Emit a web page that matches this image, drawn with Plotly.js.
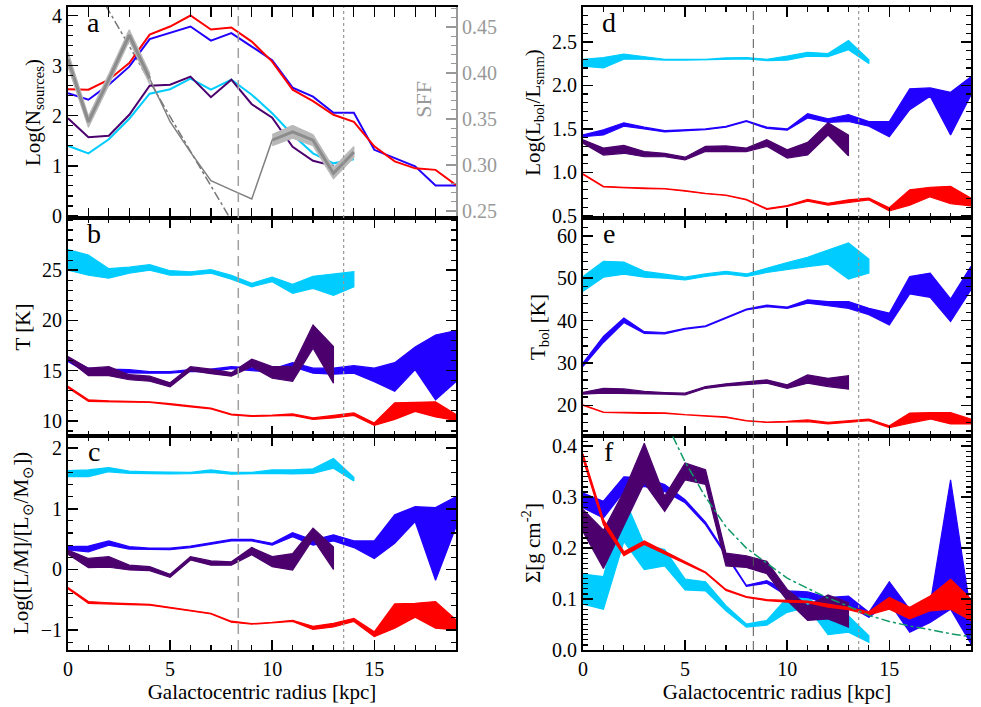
<!DOCTYPE html>
<html>
<head>
<meta charset="utf-8">
<script src="https://cdn.plot.ly/plotly-3.0.1.min.js"></script>
<style>
  body { margin: 0; background: white; }
  #chart { width: 981px; height: 707px; }
</style>
</head>
<body>
<div id="chart"></div>
<script>
// Galactocentric radius bins (kpc)
const radius = [0, 1, 2, 3, 4, 5, 6, 7, 8, 9, 10, 11, 12, 13, 14, 15, 16, 17, 18, 19]
const radius_purple = radius.slice(0, 14)
const radius_cyan = radius.slice(0, 15)

// Panel a: Log(N sources)
const a_red = [2.53, 2.52, 2.72, 3.05, 3.62, 3.78, 4.0, 3.72, 3.76, 3.48, 3.08, 2.52, 2.29, 2.02, 1.88, 1.39, 1.09, 0.95, 0.92, 0.62]
const a_blue = [2.45, 2.32, 2.62, 2.98, 3.53, 3.65, 3.78, 3.5, 3.65, 3.38, 3.11, 2.56, 2.38, 2.06, 2.06, 1.32, 1.15, 0.99, 0.61, 0.61]
const a_purple = [1.95, 1.57, 1.6, 2.02, 2.6, 2.62, 2.78, 2.37, 2.72, 2.23, 1.96, 1.38, 1.1, 1.0]
const a_cyan = [1.4, 1.25, 1.53, 1.94, 2.44, 2.53, 2.74, 2.52, 2.72, 2.42, 2.05, 1.62, 1.25, 1.05, 1.13]
const a_fit_x = [1.85, 5.0, 7.9]
const a_fit_y = [4.2, 1.98, -0.02]

// Panel a, right axis: star forming fraction
const sff = [0.415, 0.347, 0.393, 0.441, 0.394, 0.347, 0.314, 0.283, 0.273, 0.263, 0.327, 0.336, 0.327, 0.291, 0.314]
const sff_err = [0.008, 0.006, 0.006, 0.006, 0.006, 0, 0, 0, 0, 0, 0.006, 0.007, 0.006, 0.006, 0.006]

// Panel b: T [K]
const b_cyan_hi = [27.05, 26.5, 25.15, 25.3, 25.55, 24.95, 24.85, 25.05, 24.5, 23.7, 24.3, 23.6, 24.4, 24.6, 24.85]
const b_cyan_lo = [25.0, 24.5, 24.2, 24.7, 25.0, 24.5, 24.5, 24.7, 24.1, 23.35, 23.85, 22.7, 23.2, 22.5, 23.35]
const b_blue_hi = [16.25, 15.25, 15.15, 15.1, 14.9, 14.9, 15.1, 15.15, 15.4, 15.25, 15.15, 15.8, 15.25, 15.25, 15.5, 15.25, 15.8, 17.35, 18.55, 19.0]
const b_blue_lo = [15.9, 14.75, 14.8, 14.8, 14.75, 14.75, 14.9, 14.9, 15.2, 15.0, 14.9, 15.4, 14.75, 14.65, 14.75, 13.9, 12.95, 15.1, 12.1, 13.9]
const b_purple_hi = [16.4, 15.25, 15.4, 14.6, 14.45, 13.8, 15.4, 15.15, 14.8, 16.15, 15.4, 15.4, 19.55, 17.4]
const b_purple_lo = [16.1, 14.5, 14.5, 14.1, 13.95, 13.4, 15.0, 14.7, 14.45, 15.4, 14.25, 13.95, 17.25, 13.75]
const b_red_hi = [13.45, 12.1, 12.0, 11.95, 11.9, 11.72, 11.47, 11.27, 10.68, 10.52, 10.57, 10.7, 10.3, 10.55, 10.8, 9.8, 11.8, 11.85, 11.9, 10.65]
const b_red_lo = [13.3, 11.95, 11.92, 11.88, 11.85, 11.66, 11.4, 11.2, 10.6, 10.45, 10.5, 10.55, 10.15, 10.3, 10.55, 9.55, 10.15, 10.95, 10.4, 10.05]

// Panel c: Log([L/M]/[Lsun/Msun])
const c_cyan_hi = [1.63, 1.64, 1.68, 1.62, 1.61, 1.6, 1.6, 1.64, 1.6, 1.6, 1.64, 1.64, 1.66, 1.83, 1.52]
const c_cyan_lo = [1.53, 1.53, 1.61, 1.585, 1.585, 1.575, 1.58, 1.6, 1.57, 1.575, 1.585, 1.575, 1.585, 1.67, 1.46]
const c_blue_hi = [0.375, 0.385, 0.47, 0.375, 0.35, 0.35, 0.385, 0.445, 0.495, 0.495, 0.43, 0.605, 0.485, 0.57, 0.47, 0.47, 0.9, 1.035, 1.02, 1.2]
const c_blue_lo = [0.32, 0.29, 0.4, 0.335, 0.325, 0.325, 0.36, 0.42, 0.47, 0.47, 0.4, 0.54, 0.4, 0.47, 0.36, 0.18, 0.43, 0.79, -0.18, 0.7]
const c_purple_hi = [0.32, 0.18, 0.21, 0.07, 0.045, -0.08, 0.21, 0.14, 0.125, 0.36, 0.21, 0.26, 0.68, 0.37]
const c_purple_lo = [0.25, 0.03, 0.035, -0.01, -0.02, -0.13, 0.155, 0.07, 0.07, 0.24, 0.045, -0.01, 0.5, 0.0]
const c_red_hi = [-0.3, -0.53, -0.55, -0.565, -0.575, -0.625, -0.675, -0.725, -0.855, -0.895, -0.875, -0.84, -0.94, -0.89, -0.81, -1.03, -0.57, -0.56, -0.53, -0.83]
const c_red_lo = [-0.32, -0.56, -0.57, -0.58, -0.59, -0.635, -0.685, -0.735, -0.87, -0.905, -0.885, -0.86, -0.99, -0.95, -0.86, -1.11, -0.97, -0.79, -0.97, -1.0]

// Panel d: Log(Lbol/Lsmm)
const d_cyan_hi = [2.30, 2.32, 2.36, 2.33, 2.30, 2.30, 2.30, 2.315, 2.32, 2.30, 2.335, 2.38, 2.365, 2.515, 2.295]
const d_cyan_lo = [2.22, 2.2, 2.3, 2.3, 2.29, 2.29, 2.29, 2.3, 2.305, 2.285, 2.29, 2.335, 2.33, 2.41, 2.25]
const d_blue_hi = [1.43, 1.49, 1.57, 1.52, 1.48, 1.49, 1.5, 1.53, 1.595, 1.52, 1.5, 1.675, 1.615, 1.665, 1.585, 1.585, 1.96, 1.97, 1.92, 2.1]
const d_blue_lo = [1.41, 1.43, 1.53, 1.5, 1.465, 1.48, 1.49, 1.52, 1.585, 1.505, 1.485, 1.625, 1.575, 1.585, 1.53, 1.41, 1.72, 1.875, 1.43, 1.89]
const d_purple_hi = [1.375, 1.28, 1.31, 1.24, 1.22, 1.175, 1.3, 1.305, 1.28, 1.375, 1.26, 1.345, 1.57, 1.43]
const d_purple_lo = [1.335, 1.2, 1.22, 1.18, 1.18, 1.145, 1.24, 1.24, 1.24, 1.3, 1.165, 1.2, 1.43, 1.19]
const d_red_hi = [0.985, 0.84, 0.83, 0.82, 0.815, 0.79, 0.76, 0.74, 0.69, 0.585, 0.62, 0.69, 0.645, 0.685, 0.705, 0.595, 0.8, 0.83, 0.84, 0.705]
const d_red_lo = [0.975, 0.835, 0.825, 0.815, 0.81, 0.785, 0.755, 0.735, 0.685, 0.575, 0.61, 0.67, 0.625, 0.655, 0.685, 0.56, 0.625, 0.72, 0.64, 0.615]

// Panel e: Tbol [K]
const e_cyan_hi = [50.4, 53.95, 53.8, 51.6, 50.95, 50.25, 51.0, 51.6, 51.0, 52.4, 53.7, 54.95, 56.7, 58.3, 54.5]
const e_cyan_lo = [46.9, 50.25, 50.95, 50.25, 50.0, 49.6, 50.4, 51.0, 50.4, 51.35, 52.1, 52.75, 53.3, 49.8, 51.2]
const e_blue_hi = [30.0, 36.25, 40.6, 37.4, 37.2, 38.2, 38.75, 40.8, 42.7, 43.65, 43.2, 44.9, 44.5, 44.5, 42.9, 41.75, 50.4, 51.2, 45.1, 52.8]
const e_blue_lo = [29.2, 34.85, 39.55, 37.0, 36.9, 38.0, 38.6, 40.6, 42.5, 43.3, 42.9, 44.1, 43.5, 42.9, 41.4, 39.0, 46.3, 45.5, 39.8, 47.3]
const e_purple_hi = [23.1, 24.05, 23.9, 23.3, 23.05, 22.9, 24.45, 25.1, 25.55, 26.05, 24.85, 27.2, 26.4, 27.0]
const e_purple_lo = [22.65, 22.9, 22.9, 22.7, 22.65, 22.5, 24.05, 24.6, 25.0, 25.25, 24.05, 25.25, 24.45, 23.85]
const e_red_hi = [20.15, 18.45, 18.35, 18.25, 18.25, 17.85, 17.6, 17.3, 16.45, 16.1, 16.25, 16.6, 16.0, 16.4, 16.8, 15.2, 18.2, 18.3, 18.3, 16.8]
const e_red_lo = [20.05, 18.35, 18.25, 18.15, 18.15, 17.75, 17.5, 17.2, 16.35, 16.0, 16.15, 16.2, 15.65, 16.0, 16.4, 14.8, 15.8, 16.8, 15.65, 15.65]

// Panel f: surface density [g cm^-2]
const f_cyan_hi = [0.149, 0.144, 0.30, 0.207, 0.197, 0.139, 0.134, 0.087, 0.051, 0.058, 0.103, 0.106, 0.064, 0.067, 0.028]
const f_cyan_lo = [0.09, 0.08, 0.213, 0.158, 0.165, 0.118, 0.116, 0.077, 0.045, 0.049, 0.074, 0.084, 0.03, 0.035, 0.015]
const f_blue_hi = [0.308, 0.292, 0.34, 0.338, 0.325, 0.295, 0.251, 0.188, 0.127, 0.136, 0.116, 0.114, 0.103, 0.106, 0.074, 0.134, 0.08, 0.09, 0.334, 0.07]
const f_blue_lo = [0.279, 0.259, 0.311, 0.321, 0.311, 0.289, 0.246, 0.185, 0.125, 0.131, 0.106, 0.103, 0.09, 0.087, 0.064, 0.093, 0.035, 0.054, 0.08, 0.012]
const f_purple_hi = [0.276, 0.235, 0.311, 0.406, 0.302, 0.367, 0.354, 0.19, 0.185, 0.174, 0.119, 0.087, 0.108, 0.093]
const f_purple_lo = [0.232, 0.16, 0.245, 0.328, 0.272, 0.334, 0.325, 0.165, 0.162, 0.15, 0.097, 0.058, 0.061, 0.045]
const f_red_hi = [0.385, 0.256, 0.193, 0.214, 0.194, 0.173, 0.153, 0.119, 0.105, 0.099, 0.097, 0.096, 0.09, 0.084, 0.075, 0.103, 0.084, 0.106, 0.139, 0.1]
const f_red_lo = [0.375, 0.246, 0.185, 0.207, 0.188, 0.17, 0.151, 0.117, 0.103, 0.097, 0.094, 0.093, 0.084, 0.079, 0.069, 0.08, 0.061, 0.077, 0.08, 0.058]
const f_model_x = [4.4, 5, 6, 7, 8, 9, 10, 11, 12, 13, 14, 15, 16, 17, 18, 19]
const f_model_y = [0.419, 0.369, 0.30, 0.242, 0.20, 0.17, 0.141, 0.121, 0.102, 0.086, 0.068, 0.056, 0.047, 0.04, 0.032, 0.026]

const R_SUN = 8.34
const R_EDGE = 13.5

const CYAN = "#00ccff"
const BLUE = "#2200ff"
const PURPLE = "#4b006e"
const RED = "#ff0000"
const FONT = "Liberation Serif"

// filled band between lo and hi, drawn as one closed polygon
function band(x, lo, hi, color, xa, ya)
{
    return {
        x: x.concat(x.slice().reverse()),
        y: hi.concat(lo.slice().reverse()),
        xaxis: xa, yaxis: ya,
        mode: 'lines', fill: 'toself', fillcolor: color,
        line: { color: color, width: 1.2 },
        hoverinfo: 'skip', showlegend: false
    }
}

function line(x, y, color, width, xa, ya, dash)
{
    return {
        x: x, y: y, xaxis: xa, yaxis: ya, mode: 'lines',
        line: { color: color, width: width, dash: dash || 'solid' },
        hoverinfo: 'skip', showlegend: false
    }
}

// SFF band segment with dark centre line
function sff_band(i0, i1)
{
    const x = radius.slice(i0, i1 + 1)
    const mid = sff.slice(i0, i1 + 1)
    const lo = mid.map((v, i) => v - sff_err[i0 + i])
    const hi = mid.map((v, i) => v + sff_err[i0 + i])
    const b = band(x, lo, hi, "#b8b8b8", 'x', 'y7')
    return [b, line(x, mid, "#8c8c8c", 3, 'x', 'y7')]
}

let data = []

// a
data.push(line(a_fit_x, a_fit_y, "#777777", 1.5, 'x', 'y', 'dashdot'))
data.push(line(radius_cyan, a_cyan, CYAN, 2, 'x', 'y'))
data.push(line(radius_purple, a_purple, PURPLE, 2, 'x', 'y'))
data.push(line(radius, a_blue, BLUE, 2, 'x', 'y'))
data.push(line(radius, a_red, RED, 2, 'x', 'y'))
data.push(line(radius_cyan, sff, "#808080", 1.5, 'x', 'y7'))
data = data.concat(sff_band(0, 4), sff_band(10, 14))

// b .. f
const panels = [
    ['x2', 'y2', [b_cyan_lo, b_cyan_hi], [b_blue_lo, b_blue_hi], [b_purple_lo, b_purple_hi], [b_red_lo, b_red_hi]],
    ['x3', 'y3', [c_cyan_lo, c_cyan_hi], [c_blue_lo, c_blue_hi], [c_purple_lo, c_purple_hi], [c_red_lo, c_red_hi]],
    ['x4', 'y4', [d_cyan_lo, d_cyan_hi], [d_blue_lo, d_blue_hi], [d_purple_lo, d_purple_hi], [d_red_lo, d_red_hi]],
    ['x5', 'y5', [e_cyan_lo, e_cyan_hi], [e_blue_lo, e_blue_hi], [e_purple_lo, e_purple_hi], [e_red_lo, e_red_hi]],
    ['x6', 'y6', [f_cyan_lo, f_cyan_hi], [f_blue_lo, f_blue_hi], [f_purple_lo, f_purple_hi], [f_red_lo, f_red_hi]],
]
for (const [xa, ya, cy, bl, pu, rd] of panels) {
    data.push(band(radius_cyan, cy[0], cy[1], CYAN, xa, ya))
    data.push(band(radius, bl[0], bl[1], BLUE, xa, ya))
    data.push(band(radius_purple, pu[0], pu[1], PURPLE, xa, ya))
    data.push(band(radius, rd[0], rd[1], RED, xa, ya))
}
data.push(line(f_model_x, f_model_y, "#119966", 1.5, 'x6', 'y6', 'dashdot'))

// axes
const xL = [0.0693, 0.4648]
const xR = [0.5943, 0.9898]
const yA = [0.6917, 0.9901]
const yB = [0.3833, 0.6917]
const yC = [0.0806, 0.3833]

function xaxis(domain, anchor, labels)
{
    return {
        domain: domain, anchor: anchor, range: [0, 19],
        tick0: 0, dtick: 5, ticks: 'inside', ticklen: 10, tickwidth: 1.5, tickcolor: 'black',
        minor: { dtick: 1, ticks: 'inside', ticklen: 5, tickwidth: 1.2, tickcolor: 'black' },
        showline: true, linewidth: 2, linecolor: 'black', mirror: 'allticks',
        showgrid: false, zeroline: false, showticklabels: labels,
        tickfont: { family: FONT, size: 20, color: 'black' },
        title: labels ? { text: "Galactocentric radius [kpc]", font: { family: FONT, size: 21 }, standoff: 2 } : undefined
    }
}

function yaxis(domain, anchor, range, tickvals, fmt, minor, title, mirror)
{
    return {
        domain: domain, anchor: anchor, range: range,
        tickvals: tickvals, tickformat: fmt,
        ticks: 'inside', ticklen: 10, tickwidth: 1.5, tickcolor: 'black',
        minor: { dtick: minor, ticks: 'inside', ticklen: 5, tickwidth: 1.2, tickcolor: 'black' },
        showline: true, linewidth: 2, linecolor: 'black', mirror: mirror,
        showgrid: false, zeroline: false,
        tickfont: { family: FONT, size: 20, color: 'black' },
        title: { text: title, font: { family: FONT, size: 21 }, standoff: 6 }
    }
}

const layout = {
    width: 981, height: 707,
    margin: { l: 0, r: 0, t: 0, b: 0 },
    paper_bgcolor: 'white', plot_bgcolor: 'white',
    font: { family: FONT, size: 20, color: 'black' },
    showlegend: false,
    xaxis: xaxis(xL, 'y', false),
    xaxis2: xaxis(xL, 'y2', false),
    xaxis3: xaxis(xL, 'y3', true),
    xaxis4: xaxis(xR, 'y4', false),
    xaxis5: xaxis(xR, 'y5', false),
    xaxis6: xaxis(xR, 'y6', true),
    yaxis: yaxis(yA, 'x', [-0.04, 4.17], [0, 1, 2, 3, 4], "d", 0.2, "Log(N<sub>sources</sub>)", false),
    yaxis2: yaxis(yB, 'x2', [8.5, 30.2], [10, 15, 20, 25], "d", 1, "T [K]", 'allticks'),
    yaxis3: yaxis(yC, 'x3', [-1.33, 2.2], [-1, 0, 1, 2], "d", 0.2, "Log([L/M]/[L<sub>⊙</sub>/M<sub>⊙</sub>])", 'allticks'),
    yaxis4: yaxis(yA, 'x4', [0.477, 2.9], [0.5, 1.0, 1.5, 2.0, 2.5], ".1f", 0.1, "Log(L<sub>bol</sub>/L<sub>smm</sub>)", 'allticks'),
    yaxis5: yaxis(yB, 'x5', [12.8, 64.2], [20, 30, 40, 50, 60], "d", 2, "T<sub>bol</sub> [K]", 'allticks'),
    yaxis6: yaxis(yC, 'x6', [0, 0.42], [0, 0.1, 0.2, 0.3, 0.4], ".1f", 0.01, "Σ[g cm<sup>-2</sup>]", 'allticks'),
    yaxis7: {
        overlaying: 'y', anchor: 'x', side: 'right', range: [0.2424, 0.4717],
        tickvals: [0.25, 0.30, 0.35, 0.40, 0.45], tickformat: ".2f",
        ticks: 'inside', ticklen: 10, tickwidth: 1.5, tickcolor: '#999999',
        minor: { dtick: 0.01, ticks: 'inside', ticklen: 5, tickwidth: 1.2, tickcolor: '#999999' },
        showline: true, linewidth: 2, linecolor: '#999999',
        showgrid: false, zeroline: false,
        tickfont: { family: FONT, size: 20, color: '#999999' }
    },
    shapes: [],
    annotations: []
}

// reference radii: solar circle (dashed) and outer edge (dotted)
for (const [xa, col, w, dash] of [['x', '#a0a0a0', 1.5, '10px,6px'], ['x4', '#555555', 1, '9px,5px']]) {
    layout.shapes.push({ type: 'line', xref: xa, yref: 'paper', x0: R_SUN, x1: R_SUN, y0: yC[0], y1: yA[1],
        line: { color: col, width: w, dash: dash }, layer: 'above' })
    layout.shapes.push({ type: 'line', xref: xa, yref: 'paper', x0: R_EDGE, x1: R_EDGE, y0: yC[0], y1: yA[1],
        line: { color: '#999999', width: 1.2, dash: 'dot' }, layer: 'above' })
}

// panel letters, placed in paper coordinates near each panel's top-left corner
const letters = [['a', xL, yA], ['b', xL, yB], ['c', xL, yC], ['d', xR, yA], ['e', xR, yB], ['f', xR, yC]]
for (const [txt, dx, dy] of letters) {
    layout.annotations.push({ text: txt, xref: 'paper', yref: 'paper',
        x: dx[0] + 0.067 * (dx[1] - dx[0]), y: dy[1] + 0.003, xanchor: 'center', yanchor: 'top',
        showarrow: false, font: { family: FONT, size: 28, color: 'black' } })
}
layout.annotations.push({ text: "SFF", xref: 'x domain', yref: 'y domain', x: 0.955, y: 0.56,
    textangle: -90, showarrow: false, font: { family: FONT, size: 22, color: '#999999' } })

Plotly.newPlot(document.getElementById("chart"), data, layout, { displaylogo: false, staticPlot: true })
</script>
</body>
</html>
